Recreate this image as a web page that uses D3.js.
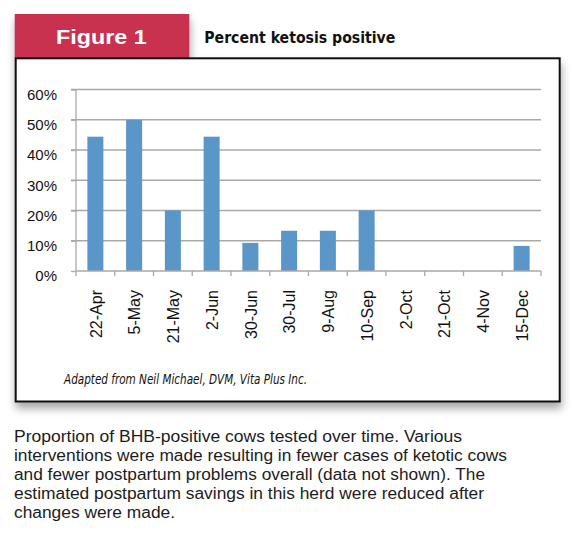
<!DOCTYPE html>
<html>
<head>
<meta charset="utf-8">
<script src="https://cdn.jsdelivr.net/npm/d3@7"></script>
<style>
  body { margin: 0; background: #fff; }
  svg { display: block; font-family: "Liberation Sans", Arial, sans-serif; }
</style>
</head>
<body>
<script>
// data
const categories = ['22-Apr', '5-May', '21-May', '2-Jun', '30-Jun', '30-Jul',
  '9-Aug', '10-Sep', '2-Oct', '21-Oct', '4-Nov', '15-Dec'];
const percentPositive = [0.444, 0.5, 0.2, 0.444, 0.093, 0.133,
  0.133, 0.2, 0, 0, 0, 0.083];
const yTicks = [0, 0.1, 0.2, 0.3, 0.4, 0.5, 0.6];

const captionLines = [
  'Proportion of BHB-positive cows tested over time. Various',
  'interventions were made resulting in fewer cases of ketotic cows',
  'and fewer postpartum problems overall (data not shown). The',
  'estimated postpartum savings in this herd were reduced after',
  'changes were made.'
];
const captionWidths = [448, 493, 471, 470, 161];

const width = 575;
const height = 536;
const plot = { left: 76, right: 541, top: 89.5, bottom: 271 };

const svg = d3.select('body')
  .append('svg')
  .attr('width', width)
  .attr('height', height);

// drop shadow for the figure frame
const filter = svg.append('defs').append('filter')
  .attr('id', 'shadow')
  .attr('x', '-5%').attr('y', '-5%')
  .attr('width', '115%').attr('height', '115%');
filter.append('feDropShadow')
  .attr('dx', 1).attr('dy', 6)
  .attr('stdDeviation', 4)
  .attr('flood-color', '#000')
  .attr('flood-opacity', 0.35);

const frame = svg.append('g').attr('filter', 'url(#shadow)');

frame.append('rect')
  .attr('x', 14.7).attr('y', 14)
  .attr('width', 174.6).attr('height', 44)
  .attr('fill', '#c93350');

frame.append('rect')
  .attr('x', 15.7).attr('y', 58.3)
  .attr('width', 544).attr('height', 343.2)
  .attr('fill', '#fff')
  .attr('stroke', '#111')
  .attr('stroke-width', 2);

svg.append('text')
  .attr('x', 56).attr('y', 44.3)
  .attr('textLength', 90.7)
  .attr('lengthAdjust', 'spacingAndGlyphs')
  .style('font-size', '21px')
  .style('font-weight', 'bold')
  .style('fill', '#fff')
  .text('Figure 1');

svg.append('text')
  .attr('x', 204.3).attr('y', 42.7)
  .attr('textLength', 191)
  .attr('lengthAdjust', 'spacingAndGlyphs')
  .style('font-family', '"Liberation Sans Narrow", "DejaVu Sans Condensed", sans-serif')
  .style('font-size', '16px')
  .style('font-weight', 'bold')
  .style('fill', '#111')
  .text('Percent ketosis positive');

// scales
const xScale = d3.scaleBand()
  .domain(categories)
  .range([plot.left, plot.right])
  .paddingInner(0.587)
  .paddingOuter(0.2935);

const yScale = d3.scaleLinear()
  .domain([0, 0.6])
  .range([plot.bottom, plot.top]);

const gridColor = '#a9a9a9';

// gridlines
svg.append('g')
  .selectAll('line')
  .data(yTicks.slice(1))
  .enter()
  .append('line')
  .attr('x1', plot.left - 5)
  .attr('x2', plot.right)
  .attr('y1', d => yScale(d))
  .attr('y2', d => yScale(d))
  .attr('stroke', gridColor)
  .attr('stroke-width', 1.3);

// y axis
const yAxis = d3.axisLeft(yScale)
  .tickValues(yTicks)
  .tickFormat(d3.format('.0%'))
  .tickSize(5)
  .tickPadding(14);

const gy = svg.append('g')
  .attr('transform', `translate(${plot.left}, 0)`)
  .call(yAxis);
gy.select('.domain').attr('stroke', gridColor).attr('stroke-width', 1.3)
  .attr('d', `M0,${plot.bottom}V${plot.top}`);
gy.selectAll('.tick line').attr('stroke', gridColor).attr('stroke-width', 1.3);
gy.selectAll('.tick text')
  .attr('dy', '0.66em')
  .style('font-size', '15px')
  .style('font-family', '"Liberation Sans", Arial, sans-serif')
  .style('fill', '#111');

// bars
svg.selectAll('.bar')
  .data(categories)
  .enter()
  .append('rect')
  .attr('class', 'bar')
  .attr('x', (d) => xScale(d))
  .attr('width', xScale.bandwidth())
  .attr('y', (d, i) => yScale(percentPositive[i]))
  .attr('height', (d, i) => yScale(0) - yScale(percentPositive[i]))
  .attr('fill', '#5b96c8');

// x axis: line, tick marks between categories, rotated labels
const step = xScale.step();
const boundaries = d3.range(categories.length + 1).map(i => plot.left + i * step);

svg.append('line')
  .attr('x1', plot.left).attr('x2', plot.right)
  .attr('y1', plot.bottom).attr('y2', plot.bottom)
  .attr('stroke', gridColor)
  .attr('stroke-width', 1.3);

svg.append('g')
  .selectAll('line')
  .data(boundaries)
  .enter()
  .append('line')
  .attr('x1', d => d).attr('x2', d => d)
  .attr('y1', plot.bottom).attr('y2', plot.bottom + 5)
  .attr('stroke', gridColor)
  .attr('stroke-width', 1.3);

const xAxis = d3.axisBottom(xScale).tickSize(0);
const gx = svg.append('g')
  .attr('transform', `translate(0, ${plot.bottom})`)
  .call(xAxis);
gx.select('.domain').remove();
gx.selectAll('.tick text')
  .attr('transform', 'rotate(-90)')
  .attr('x', -19)
  .attr('y', 6.2)
  .attr('dy', 0)
  .style('text-anchor', 'end')
  .style('font-size', '16px')
  .style('font-family', '"Liberation Sans", Arial, sans-serif')
  .style('fill', '#111');

// source note
svg.append('text')
  .attr('x', 64).attr('y', 384.3)
  .attr('textLength', 243)
  .attr('lengthAdjust', 'spacingAndGlyphs')
  .style('font-family', '"Liberation Sans Narrow", "DejaVu Sans Condensed", sans-serif')
  .style('font-style', 'italic')
  .style('font-size', '13.5px')
  .style('fill', '#111')
  .text('Adapted from Neil Michael, DVM, Vita Plus Inc.');

// caption
svg.append('g')
  .selectAll('text')
  .data(captionLines)
  .enter()
  .append('text')
  .attr('x', 14)
  .attr('y', (d, i) => 441.5 + i * 19)
  .attr('textLength', (d, i) => captionWidths[i])
  .attr('lengthAdjust', 'spacingAndGlyphs')
  .style('font-size', '16px')
  .style('fill', '#1c1c1c')
  .text(d => d);
</script>
</body>
</html>
